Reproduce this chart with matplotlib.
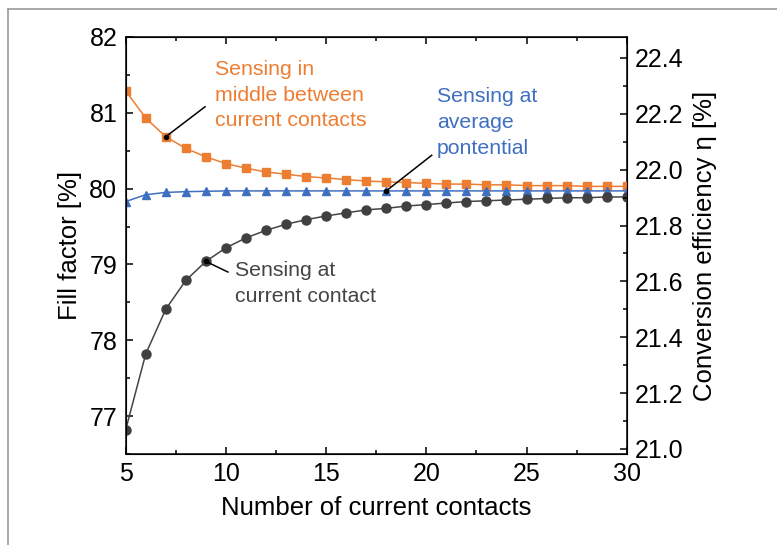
import matplotlib
matplotlib.use("Agg")
import matplotlib.pyplot as plt
from matplotlib.ticker import MultipleLocator, FormatStrFormatter
from matplotlib.lines import Line2D

plt.rcParams['font.family'] = ['Liberation Sans', 'DejaVu Sans']

# number of current contacts
contacts = list(range(5, 31))

# fill factor [%] for the three sensing positions
ff_middle = [81.29, 80.93, 80.685, 80.53, 80.42, 80.33, 80.27, 80.22, 80.19,
             80.16, 80.14, 80.12, 80.10, 80.09, 80.08, 80.07, 80.06, 80.06,
             80.05, 80.05, 80.04, 80.04, 80.04, 80.03, 80.03, 80.03]
ff_average = [79.83, 79.92, 79.95, 79.96, 79.965, 79.97, 79.97, 79.97, 79.97,
              79.97, 79.97, 79.97, 79.97, 79.97, 79.97, 79.97, 79.97, 79.97,
              79.97, 79.97, 79.97, 79.97, 79.97, 79.97, 79.97, 79.97]
ff_contact = [76.82, 77.82, 78.41, 78.79, 79.04, 79.22, 79.35, 79.45, 79.53,
              79.59, 79.64, 79.68, 79.72, 79.74, 79.77, 79.79, 79.81, 79.83,
              79.84, 79.85, 79.86, 79.87, 79.88, 79.88, 79.89, 79.89]

orange = '#ED7D31'
blue = '#3F6FC0'
grey = '#444444'

fig = plt.figure(figsize=(7.77, 5.45), dpi=100)
ax = fig.add_axes([125.7 / 777, 1 - 454 / 545, 501 / 777, 417 / 545])

ax.plot(contacts, ff_middle, '-s', color=orange, ms=5.3, lw=1.1, zorder=3)
ax.plot(contacts, ff_average, '-^', color=blue, ms=6, lw=1.1, zorder=3)
ax.plot(contacts, ff_contact, '-o', color=grey, mfc='#404040', mec='#404040',
        ms=6.5, lw=1.1, zorder=3)

ax.set_xlim(5, 30)
ax.set_ylim(76.5, 82)
ax.xaxis.set_major_locator(MultipleLocator(5))
ax.xaxis.set_minor_locator(MultipleLocator(2.5))
ax.yaxis.set_major_locator(MultipleLocator(1))
ax.yaxis.set_minor_locator(MultipleLocator(0.5))
ax.tick_params(which='both', direction='in', top=True, right=False,
               labelsize=18, width=1.1, pad=6)
ax.tick_params(which='major', length=5)
ax.tick_params(which='minor', length=3)
for s in ax.spines.values():
    s.set_linewidth(1.1)
ax.set_xlabel('Number of current contacts', fontsize=18.5, labelpad=7)
ax.set_ylabel('Fill factor [%]', fontsize=18.5, labelpad=5)

ax2 = ax.twinx()
ax2.set_ylim(20.982, 22.475)
ax2.yaxis.set_major_locator(MultipleLocator(0.2))
ax2.yaxis.set_minor_locator(MultipleLocator(0.1))
ax2.yaxis.set_major_formatter(FormatStrFormatter('%.1f'))
ax2.tick_params(which='both', direction='in', labelsize=18, width=1.1, pad=6)
ax2.tick_params(which='major', length=5)
ax2.tick_params(which='minor', length=3)
ax2.set_ylabel('Conversion efficiency η [%]', fontsize=18.5, labelpad=7)

# annotations with leader lines to black dots on the curves
notes = [
    ('Sensing in\nmiddle between\ncurrent contacts', orange, 7, ff_middle[2], (9.45, 81.235), (8.96, 81.08)),
    ('Sensing at\naverage\npontential', blue, 18, ff_average[13], (20.52, 80.87), (20.27, 80.44)),
    ('Sensing at\ncurrent contact', grey, 9, ff_contact[4], (10.45, 78.75), (10.1, 78.90)),
]
for text, col, xv, yv, txy, lxy in notes:
    ax.text(txy[0], txy[1], text, color=col, fontsize=15.3, ha='left', va='center',
            linespacing=1.45, zorder=4)
    ax.plot([xv, lxy[0]], [yv, lxy[1]], color='black', lw=1.1, zorder=4)
    ax.plot([xv], [yv], 'o', color='black', ms=3, zorder=5)

# thin grey frame of the original figure
fig.add_artist(Line2D([8 / 777, 8 / 777], [0, 1 - 9 / 545], color='#999999', lw=1.2))
fig.add_artist(Line2D([8 / 777, 1], [1 - 9 / 545, 1 - 9 / 545], color='#999999', lw=1.2))

fig.savefig('out.png', dpi=100)
